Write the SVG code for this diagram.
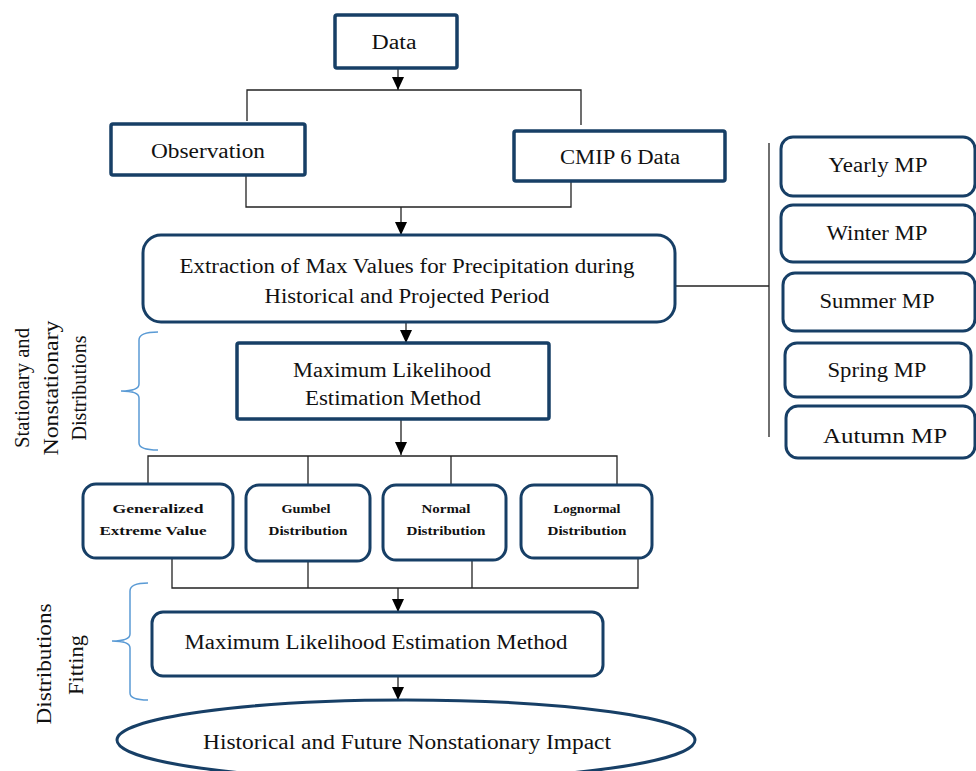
<svg xmlns="http://www.w3.org/2000/svg" width="976" height="771" viewBox="0 0 976 771">
<defs>
<marker id="arr" viewBox="0 0 10 10" refX="10" refY="5" markerWidth="13" markerHeight="12" markerUnits="userSpaceOnUse" orient="auto" preserveAspectRatio="none">
<path d="M0,0 L10,5 L0,10 z" fill="#000"/>
</marker>
<style>
.box{fill:#fff;stroke:#173f66;stroke-width:3.5}
.rbox{fill:#fff;stroke:#173f66;stroke-width:3}
.t{font-family:"Liberation Serif",serif;font-size:20px;fill:#111;text-anchor:middle}
.b{font-family:"Liberation Serif",serif;font-size:13.5px;font-weight:bold;fill:#111;text-anchor:middle}
.ln{fill:none;stroke:#222;stroke-width:1.3}
.br{fill:none;stroke:#5b9bd5;stroke-width:1.5}
</style>
</defs>
<rect width="976" height="771" fill="#fff"/>
<g id="connectors">
<line class="ln" x1="398" y1="68" x2="398" y2="90" marker-end="url(#arr)"/>
<polyline class="ln" points="247,121 247,90 581,90 581,125"/>
<polyline class="ln" points="246,175 246,207 571,207 571,181"/>
<line class="ln" x1="401" y1="207" x2="401" y2="235" marker-end="url(#arr)"/>
<line class="ln" x1="675" y1="286" x2="769" y2="286"/>
<line class="ln" x1="769" y1="143" x2="769" y2="437"/>
<line class="ln" x1="406" y1="322" x2="406" y2="343" marker-end="url(#arr)"/>
<line class="ln" x1="401" y1="419" x2="401" y2="455" marker-end="url(#arr)"/>
<polyline class="ln" points="148,484 148,456 617,456 617,485"/>
<line class="ln" x1="308" y1="456" x2="308" y2="485"/>
<line class="ln" x1="451" y1="456" x2="451" y2="485"/>
<polyline class="ln" points="172,558 172,588 638,588 638,558"/>
<line class="ln" x1="308" y1="561" x2="308" y2="588"/>
<line class="ln" x1="472" y1="560" x2="472" y2="588"/>
<line class="ln" x1="398" y1="588" x2="398" y2="612" marker-end="url(#arr)"/>
<line class="ln" x1="398" y1="676" x2="398" y2="700" marker-end="url(#arr)"/>
</g>
<g id="data"><rect class="box" x="335" y="15" width="122" height="53" rx="2"/><text class="t" x="394" y="49" textLength="45" lengthAdjust="spacingAndGlyphs">Data</text></g>
<g id="observation"><rect class="box" x="111" y="124" width="194" height="51" rx="2"/><text class="t" x="208" y="158" textLength="114" lengthAdjust="spacingAndGlyphs">Observation</text></g>
<g id="cmip6"><rect class="box" x="514" y="131" width="211" height="50" rx="2"/><text class="t" x="620" y="164" textLength="120" lengthAdjust="spacingAndGlyphs">CMIP 6 Data</text></g>
<g id="extraction"><rect class="rbox" x="143" y="235" width="532" height="87" rx="18"/>
<text class="t" x="407" y="273" textLength="455" lengthAdjust="spacingAndGlyphs">Extraction of Max Values for Precipitation during</text>
<text class="t" x="407" y="303" textLength="285" lengthAdjust="spacingAndGlyphs">Historical and Projected Period</text></g>
<g id="yearly"><rect class="rbox" x="781" y="137" width="194" height="59" rx="12"/><text class="t" x="878" y="172" textLength="99" lengthAdjust="spacingAndGlyphs">Yearly MP</text></g>
<g id="winter"><rect class="rbox" x="781" y="205" width="194" height="57" rx="12"/><text class="t" x="877" y="240" textLength="101" lengthAdjust="spacingAndGlyphs">Winter MP</text></g>
<g id="summer"><rect class="rbox" x="783" y="273" width="192" height="58" rx="12"/><text class="t" x="877" y="308" textLength="115" lengthAdjust="spacingAndGlyphs">Summer MP</text></g>
<g id="spring"><rect class="rbox" x="785" y="343" width="186" height="54" rx="12"/><text class="t" x="877" y="377" textLength="99" lengthAdjust="spacingAndGlyphs">Spring MP</text></g>
<g id="autumn"><rect class="rbox" x="786" y="406" width="189" height="52" rx="12"/><text class="t" x="885" y="443" textLength="124" lengthAdjust="spacingAndGlyphs">Autumn MP</text></g>
<g id="mle1"><rect class="box" x="237" y="343" width="312" height="76" rx="2"/>
<text class="t" x="392" y="377" textLength="198" lengthAdjust="spacingAndGlyphs">Maximum Likelihood</text>
<text class="t" x="393" y="405" textLength="176" lengthAdjust="spacingAndGlyphs">Estimation Method</text></g>
<g id="gev"><rect class="rbox" x="83" y="484" width="150" height="74" rx="13"/><text class="b" x="158" y="513" textLength="91" lengthAdjust="spacingAndGlyphs">Generalized</text><text class="b" x="153" y="535" textLength="107" lengthAdjust="spacingAndGlyphs">Extreme Value</text></g>
<g id="gumbel"><rect class="rbox" x="246" y="485" width="124" height="76" rx="13"/><text class="b" x="306" y="513" textLength="49" lengthAdjust="spacingAndGlyphs">Gumbel</text><text class="b" x="308" y="535" textLength="79" lengthAdjust="spacingAndGlyphs">Distribution</text></g>
<g id="normal"><rect class="rbox" x="383" y="485" width="123" height="75" rx="13"/><text class="b" x="446" y="513" textLength="49" lengthAdjust="spacingAndGlyphs">Normal</text><text class="b" x="446" y="535" textLength="79" lengthAdjust="spacingAndGlyphs">Distribution</text></g>
<g id="lognormal"><rect class="rbox" x="521" y="485" width="131" height="73" rx="13"/><text class="b" x="587" y="513" textLength="67" lengthAdjust="spacingAndGlyphs">Lognormal</text><text class="b" x="587" y="535" textLength="79" lengthAdjust="spacingAndGlyphs">Distribution</text></g>
<g id="mle2"><rect class="rbox" x="152" y="612" width="451" height="64" rx="11"/><text class="t" x="376" y="649" textLength="383" lengthAdjust="spacingAndGlyphs">Maximum Likelihood  Estimation Method</text></g>
<g id="impact"><ellipse cx="406" cy="740" rx="289" ry="40" fill="#fff" stroke="#173f66" stroke-width="3"/><text class="t" x="407" y="749" textLength="408" lengthAdjust="spacingAndGlyphs">Historical and Future Nonstationary Impact</text></g>
<g id="brace1">
<path class="br" d="M158,332 Q139,332 139,340 L139,384 Q139,391 121,391 Q139,391 139,398 L139,443 Q139,450 158,450"/>
<g transform="translate(29,388) rotate(-90)"><text class="t" x="0" y="0" textLength="120" lengthAdjust="spacingAndGlyphs">Stationary and</text></g>
<g transform="translate(58,388) rotate(-90)"><text class="t" x="0" y="0" textLength="135" lengthAdjust="spacingAndGlyphs">Nonstationary</text></g>
<g transform="translate(86,388) rotate(-90)"><text class="t" x="0" y="0" textLength="105" lengthAdjust="spacingAndGlyphs">Distributions</text></g>
</g>
<g id="brace2">
<path class="br" d="M148,583 Q130,583 130,591 L130,634 Q130,641 112,641 Q130,641 130,648 L130,693 Q130,700 148,700"/>
<g transform="translate(51,664) rotate(-90)"><text class="t" x="0" y="0" textLength="121" lengthAdjust="spacingAndGlyphs">Distributions</text></g>
<g transform="translate(83,665) rotate(-90)"><text class="t" x="0" y="0" textLength="60" lengthAdjust="spacingAndGlyphs">Fitting</text></g>
</g>
</svg>
